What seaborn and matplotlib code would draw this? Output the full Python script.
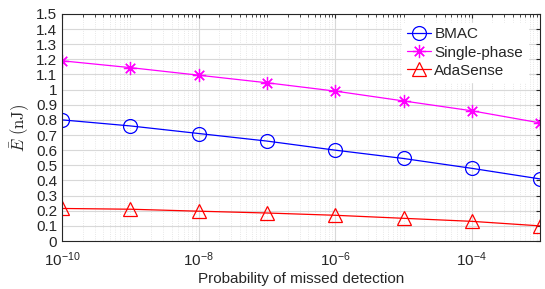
import numpy as np
import pandas as pd
import matplotlib
matplotlib.use("Agg")
import matplotlib.pyplot as plt
import matplotlib.ticker as mticker
import seaborn as sns

pmd = [1e-10, 1e-9, 1e-8, 1e-7, 1e-6, 1e-5, 1e-4, 1e-3]
bmac = [0.80, 0.76, 0.71, 0.66, 0.60, 0.545, 0.48, 0.41]
single_phase = [1.19, 1.145, 1.095, 1.045, 0.99, 0.925, 0.86, 0.78]
adasense = [0.215, 0.21, 0.197, 0.185, 0.17, 0.15, 0.13, 0.10]
series_names = ["BMAC", "Single-phase", "AdaSense"]
xtick_vals = [1e-10, 1e-8, 1e-6, 1e-4]
xtick_labels = [r"$\mathregular{10^{-10}}$", r"$\mathregular{10^{-8}}$",
                r"$\mathregular{10^{-6}}$", r"$\mathregular{10^{-4}}$"]

df = pd.DataFrame({
    "pmd": pmd * 3,
    "E": bmac + single_phase + adasense,
    "scheme": sum([[n] * len(pmd) for n in series_names], []),
})

sns.set_style("white")
plt.rcParams["font.family"] = ["Liberation Sans", "DejaVu Sans"]
plt.rcParams["mathtext.fontset"] = "cm"

fig, ax = plt.subplots(figsize=(5.45, 2.89), dpi=100)
fig.subplots_adjust(left=0.114, right=0.991, top=0.952, bottom=0.166)

palette = {"BMAC": "#0000ff", "Single-phase": "#ff00ff", "AdaSense": "#ff0000"}
markers = {"BMAC": "o", "Single-phase": (8, 2, 0), "AdaSense": "^"}
for name in series_names:
    sub = df[df["scheme"] == name]
    sns.lineplot(data=sub, x="pmd", y="E", ax=ax, color=palette[name], lw=0.9,
                 marker=markers[name], markersize=10 if name != "Single-phase" else 9.5,
                 markerfacecolor="none", markeredgecolor=palette[name],
                 markeredgewidth=0.9, label=name)

ax.set_xscale("log")
ax.set_xlim(1e-10, 1e-3)
ax.set_ylim(0, 1.5)
yt = np.round(np.arange(0, 1.51, 0.1), 1)
ax.set_yticks(yt)
ax.set_yticklabels([f"{v:g}" for v in yt])
ax.xaxis.set_major_locator(mticker.FixedLocator(xtick_vals))
ax.xaxis.set_major_formatter(mticker.FixedFormatter(xtick_labels))
ax.xaxis.set_minor_locator(mticker.LogLocator(base=10, subs=np.arange(1, 10), numticks=20))
ax.xaxis.set_minor_formatter(mticker.NullFormatter())

ax.grid(True, which="major", color="#d8d8d8", lw=0.8)
ax.grid(True, which="minor", axis="x", color="#e0e0e0", lw=0.6, ls=":")
ax.tick_params(which="both", direction="in", top=True, right=True, labelsize=11, colors="#262626", length=3)
ax.tick_params(which="minor", length=2)
ax.tick_params(axis="x", which="major", pad=7)
for s in ax.spines.values():
    s.set_color("#262626")
    s.set_linewidth(0.8)

ax.set_xlabel("Probability of missed detection", fontsize=11, color="#262626", labelpad=2)
ax.set_ylabel(r"$\bar{E}\ \mathrm{(nJ)}$", fontsize=12, color="#262626", labelpad=3)

leg = ax.legend(loc="upper right", bbox_to_anchor=(0.99, 0.995), frameon=True, fontsize=11,
                handlelength=1.6, handletextpad=0.2, labelspacing=0.28, borderpad=0.3)
leg.get_frame().set_edgecolor("white")
leg.get_frame().set_facecolor("white")
leg.get_frame().set_alpha(1)

fig.savefig("out.png", dpi=100)
